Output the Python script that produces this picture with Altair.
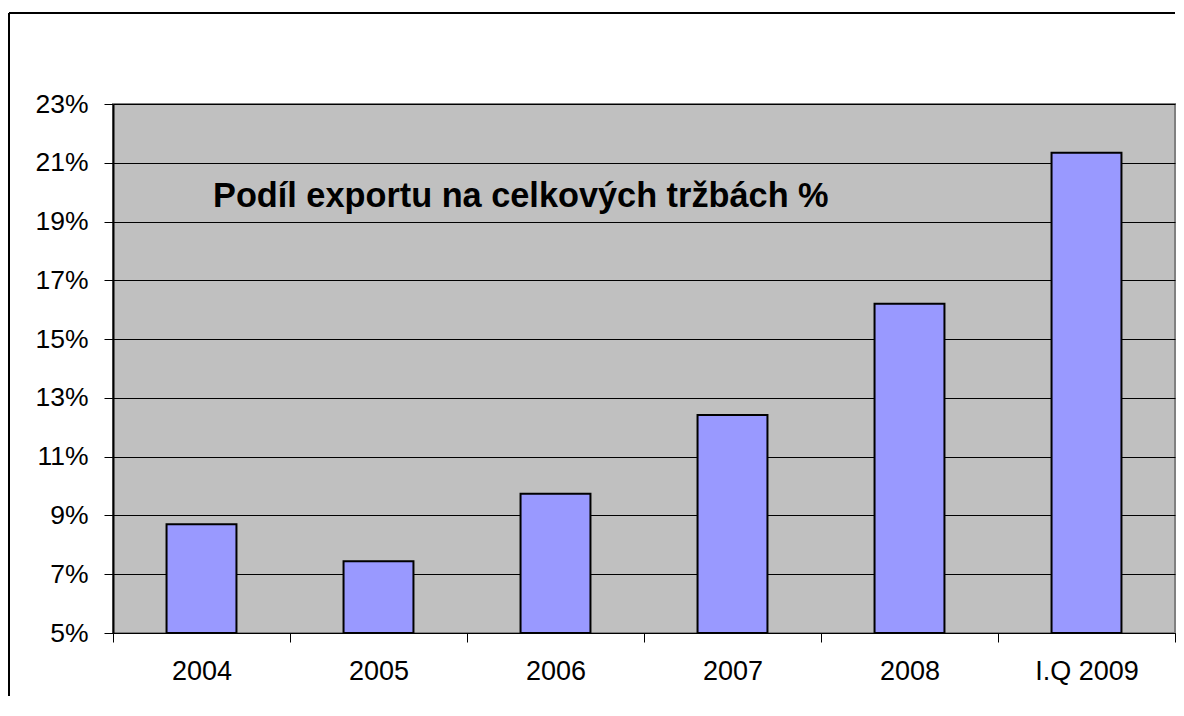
import altair as alt
import pandas as pd

categories = ["2004", "2005", "2006", "2007", "2008", "I.Q 2009"]
values = [8.7, 7.44, 9.74, 12.42, 16.2, 21.34]
baseline = 5
y_ticks = [5, 7, 9, 11, 13, 15, 17, 19, 21, 23]
title_text = "Podíl exportu na celkových tržbách %"

df = pd.DataFrame({"cat": categories, "val": values})

W, H = 1062, 529

bars = alt.Chart(df).mark_bar(
    color="#9999FF", stroke="#000000", strokeWidth=2,
    width=alt.RelativeBandSize(0.395)
).encode(
    x=alt.X("cat:N", sort=categories, title=None,
            scale=alt.Scale(paddingInner=0, paddingOuter=0),
            axis=alt.Axis(labelAngle=0, tickBand="extent", ticks=True, tickSize=9,
                          tickColor="#000000", domainColor="#000000", domainWidth=1,
                          labelFont="Liberation Sans", labelFontSize=27, labelColor="#000000",
                          labelPadding=16, grid=False)),
    y=alt.Y("val:Q", title=None,
            scale=alt.Scale(domain=[5, 23], nice=False, zero=False),
            axis=alt.Axis(values=y_ticks, labelExpr="datum.value + '%'", tickSize=9,
                          tickColor="#000000", domainColor="#000000", domainWidth=2,
                          labelFont="Liberation Sans", labelFontSize=26.5, labelColor="#000000",
                          labelPadding=16, grid=True, gridColor="#000000", gridWidth=1,
                          gridOpacity=1)),
    y2=alt.datum(baseline),
)

one = alt.Data(values=[{}])

title = alt.Chart(one).mark_text(
    text=title_text, font="Liberation Sans", fontSize=34.3, fontWeight="bold",
    align="left", baseline="middle", color="#000000"
).encode(x=alt.value(100), y=alt.value(93))

left_rule = alt.Chart(one).mark_rule(color="#000000", strokeWidth=2).encode(
    x=alt.value(-104), y=alt.value(-91), y2=alt.value(592))
top_rule = alt.Chart(one).mark_rule(color="#000000", strokeWidth=2).encode(
    x=alt.value(-104), x2=alt.value(1062), y=alt.value(-91))

chart = alt.layer(bars, title, left_rule, top_rule).properties(
    width=W, height=H,
    padding={"left": 0, "top": 4, "right": 0, "bottom": 0},
    background="#FFFFFF",
).configure_view(
    fill="#C0C0C0", stroke="#808080", strokeWidth=2
)

chart.save("out.html", embed_options={"renderer": "svg", "actions": False})
